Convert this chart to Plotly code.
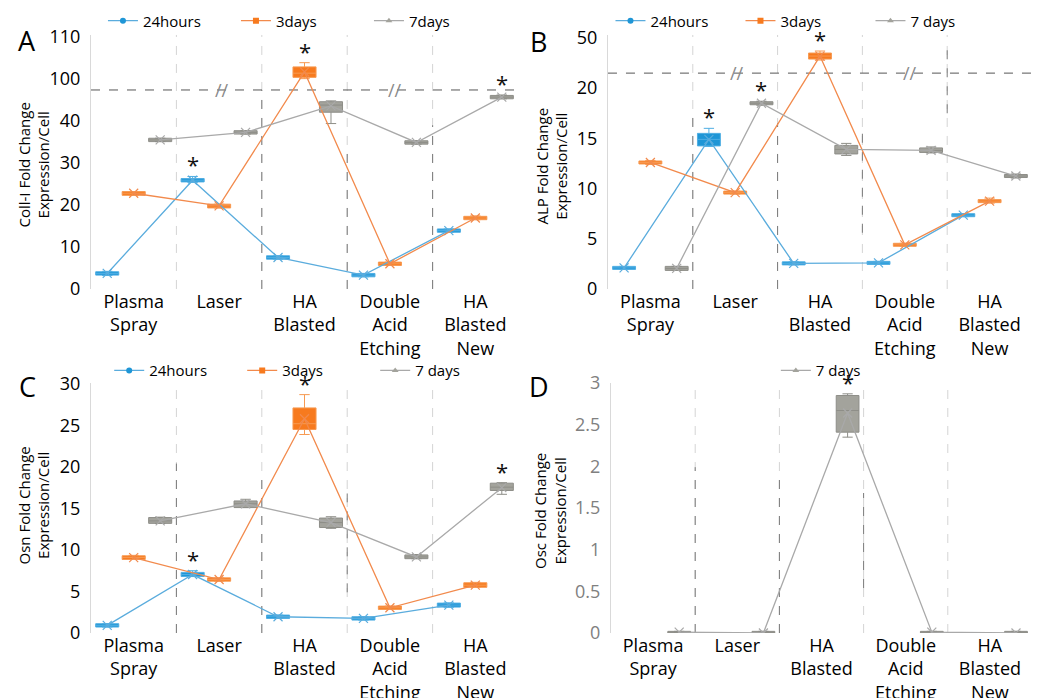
import plotly.graph_objects as go

CATEGORIES = ["Plasma<br>Spray", "Laser", "HA<br>Blasted",
              "Double<br>Acid<br>Etching", "HA<br>Blasted<br>New"]

# each tuple: (lower whisker, q1, median, q3, upper whisker, mean)
COLL_24H = [(3.2, 3.3, 3.7, 4.1, 4.2, 3.7), (25.4, 25.5, 25.9, 26.3, 26.8, 25.9),
            (7.1, 7.1, 7.5, 7.9, 7.9, 7.5), (2.9, 2.9, 3.3, 3.7, 3.7, 3.3),
            (13.5, 13.5, 13.9, 14.3, 14.3, 13.9)]
COLL_3D = [(22.3, 22.3, 22.8, 23.2, 23.2, 22.8), (19.3, 19.3, 19.8, 20.2, 20.2, 19.8),
           (100.1, 100.4, 101.4, 102.9, 103.9, 101.7), (5.6, 5.6, 6.0, 6.4, 6.4, 6.0),
           (16.5, 16.5, 16.9, 17.3, 17.4, 16.9)]
COLL_7D = [(35.1, 35.1, 35.5, 35.9, 35.9, 35.5), (36.9, 36.9, 37.3, 37.7, 37.7, 37.3),
           (39.4, 42.1, 43.8, 44.6, 44.8, 43.6), (34.5, 34.5, 34.9, 35.3, 35.3, 34.9),
           (45.3, 45.3, 45.7, 46.1, 46.2, 45.7)]

ALP_24H = [(1.95, 1.95, 2.1, 2.25, 2.25, 2.1), (14.2, 14.25, 14.9, 15.5, 16.0, 14.9),
           (2.4, 2.4, 2.55, 2.7, 2.7, 2.55), (2.45, 2.45, 2.6, 2.75, 2.75, 2.6),
           (7.2, 7.2, 7.35, 7.5, 7.5, 7.35)]
ALP_3D = [(12.4, 12.45, 12.6, 12.75, 12.8, 12.6), (9.45, 9.45, 9.6, 9.75, 9.75, 9.6),
          (43.4, 43.7, 44.6, 45.5, 46.1, 44.6), (4.25, 4.25, 4.4, 4.55, 4.55, 4.4),
          (8.55, 8.6, 8.75, 8.9, 9.05, 8.75)]
ALP_7D = [(1.85, 1.85, 2.05, 2.25, 2.25, 2.05), (18.3, 18.35, 18.5, 18.65, 18.7, 18.5),
          (13.3, 13.45, 13.9, 14.3, 14.5, 13.9), (13.55, 13.6, 13.8, 14.05, 14.15, 13.8),
          (11.05, 11.1, 11.25, 11.4, 11.45, 11.25)]

OSN_24H = [(0.72, 0.72, 0.92, 1.12, 1.12, 0.92), (6.8, 6.8, 7.04, 7.3, 7.5, 7.04),
           (1.76, 1.76, 1.96, 2.16, 2.16, 1.96), (1.56, 1.56, 1.76, 1.96, 1.96, 1.76),
           (3.1, 3.12, 3.36, 3.6, 3.62, 3.36)]
OSN_3D = [(8.85, 8.85, 9.08, 9.3, 9.35, 9.08), (6.24, 6.24, 6.44, 6.64, 6.64, 6.44),
          (23.9, 24.5, 25.2, 27.1, 28.7, 25.8), (2.84, 2.84, 3.04, 3.24, 3.24, 3.04),
          (5.5, 5.5, 5.76, 6.05, 6.1, 5.76)]
OSN_7D = [(13.2, 13.2, 13.5, 13.9, 13.95, 13.5), (15.1, 15.1, 15.56, 15.9, 16.1, 15.56),
          (12.6, 12.7, 13.3, 13.84, 14.0, 13.3), (8.95, 8.95, 9.16, 9.4, 9.45, 9.16),
          (16.7, 17.16, 17.56, 18.04, 18.1, 17.5)]

OSC_7D = [(0.0, 0.0, 0.01, 0.02, 0.02, 0.01), (0.0, 0.0, 0.0, 0.02, 0.02, 0.0),
          (2.35, 2.41, 2.67, 2.85, 2.87, 2.64), (0.0, 0.0, 0.01, 0.02, 0.02, 0.01),
          (0.0, 0.0, 0.0, 0.02, 0.02, 0.0)]

# significance stars: (series index, category index)
COLL_STARS = [(0, 1), (1, 2), (2, 4)]
ALP_STARS = [(0, 1), (2, 1), (1, 2)]
OSN_STARS = [(0, 1), (1, 2), (2, 4)]
OSC_STARS = [(2, 2)]

# ---- styling ----
FONT = "Open Sans"
BOX_FILL = ["#1F96D6", "#F77A1E", "#A3A39C"]
BOX_LINE = ["#4FAEE3", "#F79A52", "#8E8E88"]
LINE_COL = ["#5AACDD", "#F28A4C", "#A9A9A9"]
LEG_SYM = ["circle", "square", "triangle-up"]
OFFSETS = [-0.31, 0.0, 0.31]
BOX_W = 0.27
W, H = 1040, 698


def coll_disp(v):
    return v - 50 if v > 70 else v


def alp_disp(v):
    return 25 + (v - 50) / 3.0 if v > 30 else v


def ident(v):
    return v


panels = [
    dict(series=[COLL_24H, COLL_3D, COLL_7D], idx=[0, 1, 2], fn=coll_disp,
         names=["24hours", "3days", "7days"], stars=COLL_STARS,
         yrange=[0, 60.5], tickvals=[0, 10, 20, 30, 40, 50, 60],
         ticktext=["0", "10", "20", "30", "40", "100", "110"],
         title="Coll-I Fold Change<br>Expression/Cell", tpos=(33.5, 165),
         brk=47.4, slashes=[1.03, 3.06],
         dx=[0.0875, 0.4981], dy=[0.586, 0.9499], letter="A", lpos=(27, 41),
         leg=(0.099, 0.970), ew=88, tickcol="#000",
         dark=[(1.5, 0, 47.4), (2.5, 0, 33), (3.5, 0, 39)]),
    dict(series=[ALP_24H, ALP_3D, ALP_7D], idx=[0, 1, 2], fn=alp_disp,
         names=["24hours", "3days", "7 days"], stars=ALP_STARS,
         yrange=[0, 25.3], tickvals=[0, 5, 10, 15, 20, 25],
         ticktext=["0", "5", "10", "15", "20", "50"],
         title="ALP Fold Change<br>Expression/Cell", tpos=(551.5, 166),
         brk=21.5, slashes=[1.02, 3.06],
         dx=[0.5846, 0.9923], dy=[0.586, 0.9499], letter="B", lpos=(538, 42),
         leg=(0.587, 0.970), ew=85, tickcol="#000",
         dark=[(0.5, 0, 17.5), (1.5, 0, 16.5), (2.5, 5.6, 15.5), (3.5, 17.5, 24.5)]),
    dict(series=[OSN_24H, OSN_3D, OSN_7D], idx=[0, 1, 2], fn=ident,
         names=["24hours", "3days", "7 days"], stars=OSN_STARS,
         yrange=[0, 30.1], tickvals=[0, 5, 10, 15, 20, 25, 30],
         ticktext=["0", "5", "10", "15", "20", "25", "30"],
         title="Osn Fold Change<br>Expression/Cell", tpos=(33.5, 506),
         brk=None, slashes=[],
         dx=[0.0875, 0.4981], dy=[0.0931, 0.4513], letter="C", lpos=(27, 386),
         leg=(0.105, 0.469), ew=88, tickcol="#000",
         dark=[(0.5, 0, 20.4), (1.5, 0, 19.2), (2.5, 4.9, 16.8)]),
    dict(series=[OSC_7D], idx=[2], fn=ident,
         names=["7 days"], stars=OSC_STARS,
         yrange=[0, 3.0], tickvals=[0, 0.5, 1, 1.5, 2, 2.5, 3],
         ticktext=["0", "0.5", "1", "1.5", "2", "2.5", "3"],
         title="Osc Fold Change<br>Expression/Cell", tpos=(550, 511),
         brk=None, slashes=[],
         dx=[0.5875, 0.9923], dy=[0.0931, 0.4513], letter="D", lpos=(539, 386),
         leg=(0.746, 0.469), ew=85, tickcol="#808080",
         dark=[(0.5, 0, 1.99), (1.5, 0, 1.88), (2.5, 0.54, 1.68)]),
]

fig = go.Figure()
shapes = []
annotations = []
layout = {}

for p_i, p in enumerate(panels):
    n = p_i + 1
    xa = "x" if n == 1 else f"x{n}"
    ya = "y" if n == 1 else f"y{n}"
    legname = "legend" if n == 1 else f"legend{n}"
    fn = p["fn"]

    # boxes
    for data, s in zip(p["series"], p["idx"]):
        xs = [i + OFFSETS[s] for i in range(len(CATEGORIES))]
        fig.add_trace(go.Box(
            x=xs,
            lowerfence=[fn(d[0]) for d in data], q1=[fn(d[1]) for d in data],
            median=[fn(d[2]) for d in data], q3=[fn(d[3]) for d in data],
            upperfence=[fn(d[4]) for d in data],
            width=BOX_W, fillcolor=BOX_FILL[s],
            line=dict(color=BOX_LINE[s], width=1), whiskerwidth=0.45,
            boxpoints=False, showlegend=False, hoverinfo="skip",
            xaxis=xa, yaxis=ya))
    # lines through means
    for data, s, name in zip(p["series"], p["idx"], p["names"]):
        xs = [i + OFFSETS[s] for i in range(len(CATEGORIES))]
        fig.add_trace(go.Scatter(
            x=xs, y=[fn(d[5]) for d in data], mode="lines+markers",
            line=dict(color=LINE_COL[s], width=1.3),
            marker=dict(symbol="x-thin", size=9, line=dict(color=LINE_COL[s], width=1.2)),
            showlegend=False, hoverinfo="skip", xaxis=xa, yaxis=ya))
        fig.add_trace(go.Scatter(
            x=[None], y=[None], mode="lines+markers", name=name,
            line=dict(color=LINE_COL[s], width=1.3),
            marker=dict(symbol=LEG_SYM[s], size=6, color=BOX_FILL[s]),
            legend=legname, xaxis=xa, yaxis=ya))
    # significance stars above the upper whisker
    lookup = dict(zip(p["idx"], p["series"]))
    for s, c in p["stars"]:
        annotations.append(dict(x=c + OFFSETS[s], y=fn(lookup[s][c][4]), xref=xa, yref=ya,
                                text="*", showarrow=False, yanchor="bottom", yshift=-5,
                                font=dict(family=FONT, size=22, color="#111")))

    # separators
    for b in [0.5, 1.5, 2.5, 3.5]:
        shapes.append(dict(type="line", xref=xa, yref=f"{ya} domain", x0=b, x1=b, y0=0, y1=1,
                           line=dict(color="#D4D4D4", width=1, dash="dash"), layer="below"))
    for b, y0, y1 in p["dark"]:
        shapes.append(dict(type="line", xref=xa, yref=ya, x0=b, x1=b, y0=y0, y1=y1,
                           line=dict(color="#7A7A7A", width=1, dash="dash"), layer="below"))
    if p["brk"] is not None:
        shapes.append(dict(type="line", xref=f"{xa} domain", yref=ya, x0=0, x1=1,
                           y0=p["brk"], y1=p["brk"],
                           line=dict(color="#555555", width=1, dash="dash"), layer="below"))
        for sxp in p["slashes"]:
            annotations.append(dict(x=sxp, y=p["brk"], xref=xa, yref=ya, text="//",
                                    showarrow=False, font=dict(family=FONT, size=18, color="#8A8A8A")))
    # panel letter
    annotations.append(dict(x=p["lpos"][0] / W, y=1 - p["lpos"][1] / H, xref="paper", yref="paper",
                            text=p["letter"], showarrow=False, xanchor="center", yanchor="middle",
                            font=dict(family=FONT, size=27, color="#000")))
    # y-axis title
    annotations.append(dict(x=p["tpos"][0] / W, y=1 - p["tpos"][1] / H, xref="paper", yref="paper",
                            text=p["title"], showarrow=False, textangle=-90,
                            xanchor="center", yanchor="middle",
                            font=dict(family=FONT, size=15, color="#000")))

    layout[f"xaxis{'' if n == 1 else n}"] = dict(
        domain=p["dx"], anchor=ya, range=[-0.5, 4.5],
        tickvals=list(range(len(CATEGORIES))), ticktext=CATEGORIES,
        showline=False, showgrid=False, zeroline=False, ticks="",
        tickfont=dict(family=FONT, size=18, color="#000"))
    layout[f"yaxis{'' if n == 1 else n}"] = dict(
        domain=p["dy"], anchor=xa, range=p["yrange"],
        tickvals=p["tickvals"], ticktext=p["ticktext"],
        showline=True, linecolor="#D9D9D9", linewidth=1,
        showgrid=False, zeroline=False, ticks="outside", ticklen=6,
        tickcolor="rgba(0,0,0,0)",
        tickfont=dict(family=FONT, size=18, color=p["tickcol"]))
    layout[legname] = dict(
        x=p["leg"][0], y=p["leg"][1], xanchor="left", yanchor="middle",
        orientation="h", entrywidth=p["ew"], entrywidthmode="pixels",
        bgcolor="rgba(0,0,0,0)", font=dict(family=FONT, size=15, color="#000"),
        itemwidth=30, tracegroupgap=0)

fig.update_layout(
    width=W, height=H, margin=dict(l=0, r=0, t=0, b=0, autoexpand=False),
    paper_bgcolor="white", plot_bgcolor="white",
    shapes=shapes, annotations=annotations, boxmode="overlay",
    font=dict(family=FONT), **layout)

fig.write_html("out.html", config={"displayModeBar": False},
               post_script="document.body.style.margin='0px';"
                           "document.body.style.overflow='hidden';")
